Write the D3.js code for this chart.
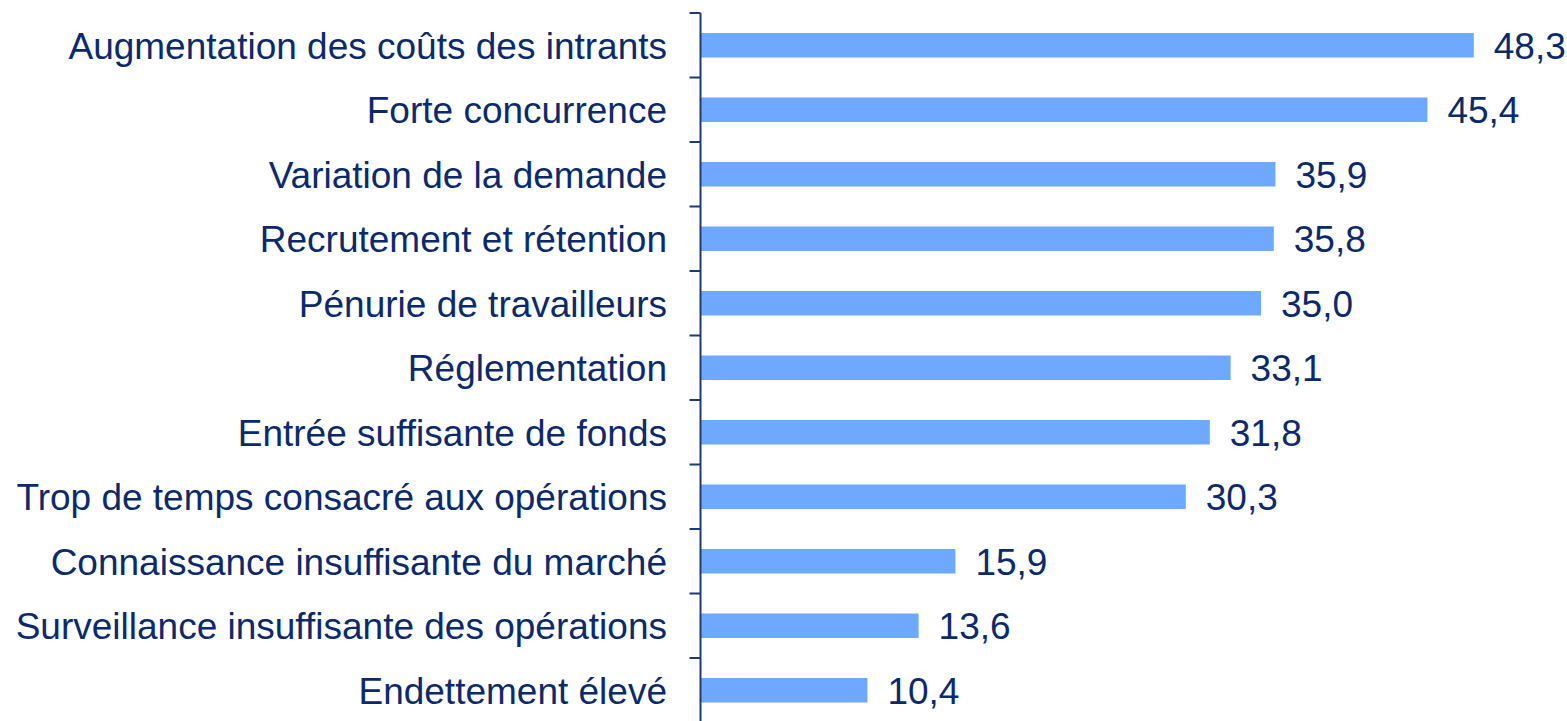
<!DOCTYPE html>
<html>
<head>
<meta charset="utf-8">
<script src="https://cdn.jsdelivr.net/npm/d3@7"></script>
<style>
  body { margin: 0; background: #fff; }
</style>
</head>
<body>
<div id="chart"></div>
<script>
var categories = [
  "Augmentation des coûts des intrants",
  "Forte concurrence",
  "Variation de la demande",
  "Recrutement et rétention",
  "Pénurie de travailleurs",
  "Réglementation",
  "Entrée suffisante de fonds",
  "Trop de temps consacré aux opérations",
  "Connaissance insuffisante du marché",
  "Surveillance insuffisante des opérations",
  "Endettement élevé"
];
var values = [48.3, 45.4, 35.9, 35.8, 35.0, 33.1, 31.8, 30.3, 15.9, 13.6, 10.4];

var width = 1567, height = 721;
var margin = {top: 13, left: 701};

var svg = d3.select("#chart").append("svg")
    .attr("width", width)
    .attr("height", height);

var x = d3.scaleLinear()
    .domain([0, 50])
    .range([margin.left, margin.left + 800]);

var y = d3.scaleBand()
    .domain(categories)
    .range([margin.top, margin.top + 64.5 * categories.length])
    .paddingInner(0.62)
    .paddingOuter(0.31);

var textColor = "#0b2a6e";
var axisColor = "#1c3a7c";
var fontSize = "37px";

// bars
svg.selectAll(".bar")
    .data(values)
  .enter().append("rect")
    .attr("class", "bar")
    .attr("x", x(0))
    .attr("y", function(d, i) { return y(categories[i]); })
    .attr("width", function(d) { return x(d) - x(0); })
    .attr("height", y.bandwidth())
    .attr("fill", "#6ea8ff");

// value labels
svg.selectAll(".val")
    .data(values)
  .enter().append("text")
    .attr("class", "val")
    .attr("x", function(d) { return x(d) + 20; })
    .attr("y", function(d, i) { return y(categories[i]) + y.bandwidth() / 2; })
    .attr("dy", "0.36em")
    .style("font-family", "Liberation Sans, Arial, sans-serif")
    .style("font-size", fontSize)
    .attr("fill", textColor)
    .text(function(d) { return d.toFixed(1).replace(".", ","); });

// category labels
svg.selectAll(".cat")
    .data(categories)
  .enter().append("text")
    .attr("class", "cat")
    .attr("x", margin.left - 34)
    .attr("y", function(d) { return y(d) + y.bandwidth() / 2; })
    .attr("dy", "0.36em")
    .attr("text-anchor", "end")
    .style("font-family", "Liberation Sans, Arial, sans-serif")
    .style("font-size", fontSize)
    .attr("fill", textColor)
    .text(function(d) { return d; });

// axis line and boundary ticks
var step = y.step();
var ax = margin.left - 0.5;
svg.append("line")
    .attr("x1", ax).attr("x2", ax)
    .attr("y1", margin.top).attr("y2", margin.top + step * categories.length)
    .attr("stroke", axisColor)
    .attr("stroke-width", 2);

svg.selectAll(".tick")
    .data(d3.range(categories.length + 1))
  .enter().append("line")
    .attr("class", "tick")
    .attr("x1", ax - 11).attr("x2", ax)
    .attr("y1", function(i) { return margin.top + i * step; })
    .attr("y2", function(i) { return margin.top + i * step; })
    .attr("stroke", axisColor)
    .attr("stroke-width", 2);
</script>
</body>
</html>
